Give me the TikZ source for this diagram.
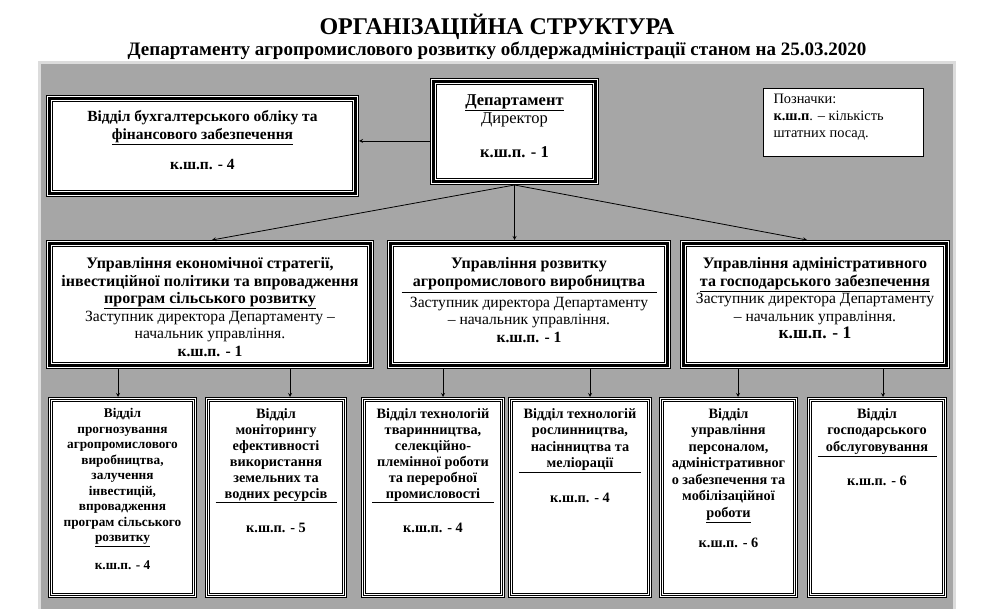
\documentclass[tikz,border=0pt]{standalone}
\usepackage{fontspec}
\setmainfont{Liberation Serif}

\definecolor{panelgray}{HTML}{A6A6A6}
\definecolor{panelrim}{HTML}{DCDCDC}

% text block of fixed size, set from the top
\newcommand{\cellbox}[4]{\parbox[c][#2][t]{#1}{\centering\vspace*{#3}#4}}
% paragraph border under a heading
\newcommand{\sepline}[2]{\\[-11pt]\rule{#1}{1.2pt}\\[#2]}

\tikzset{
  bigframe/.style={preaction={fill=white, draw=black, line width=7pt}, draw=white, line width=5pt, postaction={draw=black, line width=2.2pt}, inner sep=0pt, outer sep=3.5pt},
  smallframe/.style={preaction={fill=white, draw=black, line width=5pt}, draw=white, line width=3.4pt, postaction={draw=black, line width=1.4pt}, inner sep=0pt, outer sep=2.5pt},
  legendbox/.style={fill=white, draw=black, line width=0.8pt, inner sep=0pt},
  arr/.style={->, >=stealth, line width=0.8pt},
}

\begin{document}
\begin{tikzpicture}[x=1pt, y=-1pt]
\useasboundingbox (0,0) rectangle (994,609);

% panel
\fill[panelrim] (38,61) rectangle (956,609);
\fill[panelgray] (41,64) rectangle (953,609);

% heading
\node[font=\bfseries\fontsize{24}{27}\selectfont] (title) at (497,27) {ОРГАНІЗАЦІЙНА СТРУКТУРА};
\node[font=\bfseries\fontsize{19}{21}\selectfont] (subtitle) at (497,51) {Департаменту агропромислового розвитку облдержадміністрації станом на 25.03.2020};

% top row
\node[bigframe, font=\fontsize{15.5}{18}\selectfont] (buh) at (202.5,146) {\cellbox{306pt}{95pt}{12pt}{\textbf{Відділ бухгалтерського обліку та}\\ \textbf{\underline{фінансового забезпечення}}\\[12pt] \textbf{к.ш.п. - 4}}};
\node[bigframe, font=\fontsize{16.5}{18}\selectfont] (dept) at (514.5,131.5) {\cellbox{162pt}{100pt}{13pt}{\textbf{\underline{Департамент}}\\ Директор\\[16pt] \textbf{к.ш.п. - 1}}};
\node[legendbox, font=\fontsize{14.4}{17}\selectfont] (legend) at (843.5,122.5) {\parbox[c][68pt][t]{160pt}{\raggedright\leftskip=10pt\vspace*{6pt}Позначки:\\ \textbf{к.ш.п}. – кількість\\ штатних посад.}};

% middle row
\node[bigframe, font=\fontsize{15.6}{17.6}\selectfont] (upek) at (210,304.5) {\cellbox{321pt}{122pt}{14pt}{{\fontsize{16}{17.6}\selectfont\bfseries Управління економічної стратегії,\\ інвестиційної політики та впровадження\\ \underline{програм сільського розвитку}\\}Заступник директора Департаменту –\\ начальник управління.\\ \textbf{к.ш.п. - 1}}};
\node[bigframe, font=\fontsize{15.6}{17.6}\selectfont] (upagro) at (529,304.5) {\cellbox{277pt}{122pt}{14pt}{{\fontsize{16}{17.6}\selectfont\bfseries Управління розвитку\\ агропромислового виробництва}\sepline{255pt}{-3pt}Заступник директора Департаменту\\ – начальник управління.\\ \textbf{к.ш.п. - 1}}};
\node[bigframe, font=\fontsize{15.6}{17.6}\selectfont] (upadm) at (815,304.5) {\cellbox{263pt}{122pt}{14pt}{{\fontsize{16}{17.6}\selectfont\bfseries Управління адміністративного\\ \underline{та господарського забезпечення}\\}Заступник директора Департаменту\\ – начальник управління.\\ {\fontsize{17.5}{18}\selectfont\textbf{к.ш.п. - 1}}}};

% bottom row
\node[smallframe, font=\bfseries\fontsize{13.3}{15.5}\selectfont] (v1) at (122.5,497.5) {\cellbox{144pt}{196pt}{9pt}{Відділ\\ прогнозування\\ агропромислового\\ виробництва,\\ залучення\\ інвестицій,\\ впровадження\\ програм сільського\\ \underline{розвитку}\\[12pt] к.ш.п. - 4}};
\node[smallframe, font=\bfseries\fontsize{14.3}{16}\selectfont] (v2) at (276,497.5) {\cellbox{137pt}{196pt}{9pt}{Відділ\\ моніторингу\\ ефективності\\ використання\\ земельних та\\ водних ресурсів\sepline{121pt}{13pt}к.ш.п. - 5}};
\node[smallframe, font=\bfseries\fontsize{14.3}{16}\selectfont] (v3) at (433,497.5) {\cellbox{139pt}{196pt}{9pt}{Відділ технологій\\ тваринництва,\\ селекційно-\\ племінної роботи\\ та переробної\\ промисловості\sepline{122pt}{13pt}к.ш.п. - 4}};
\node[smallframe, font=\bfseries\fontsize{14.3}{16.5}\selectfont] (v4) at (580,497.5) {\cellbox{139pt}{196pt}{9pt}{Відділ технологій\\ рослинництва,\\ насінництва та\\ меліорації\sepline{122pt}{13pt}к.ш.п. - 4}};
\node[smallframe, font=\bfseries\fontsize{14.3}{16.5}\selectfont] (v5) at (728.5,497.5) {\cellbox{134pt}{196pt}{9pt}{Відділ\\ управління\\ персоналом,\\ адміністративног\\ о забезпечення та\\ мобілізаційної\\ \underline{роботи}\\[14pt] к.ш.п. - 6}};
\node[smallframe, font=\bfseries\fontsize{14.3}{16.5}\selectfont] (v6) at (877,497.5) {\cellbox{135pt}{196pt}{9pt}{Відділ\\ господарського\\ обслуговування\sepline{119pt}{12pt}к.ш.п. - 6}};

% connectors
\path ([yshift=-9.5pt]dept.west) coordinate (deptout);
\draw[arr] (deptout) -- (deptout -| buh.east);
\draw[arr] (dept.south) -- ([xshift=2pt]upek.north);
\draw[arr] (dept.south) -- (dept.south |- upagro.north);
\draw[arr] (dept.south) -- ([xshift=-8pt]upadm.north);

\draw[arr] (upek.south -| 118,0) -- (v1.north -| 118,0);
\draw[arr] (upek.south -| 290,0) -- (v2.north -| 290,0);
\draw[arr] (upagro.south -| 443,0) -- (v3.north -| 443,0);
\draw[arr] (upagro.south -| 590,0) -- (v4.north -| 590,0);
\draw[arr] (upadm.south -| 738,0) -- (v5.north -| 738,0);
\draw[arr] (upadm.south -| 883,0) -- (v6.north -| 883,0);
\end{tikzpicture}
\end{document}
